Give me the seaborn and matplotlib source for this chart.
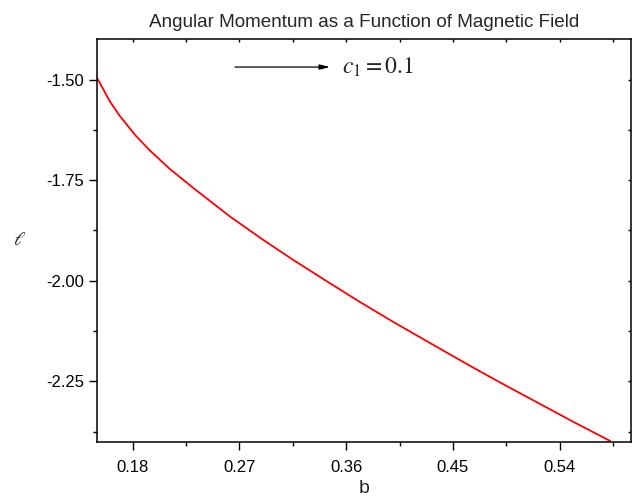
import matplotlib
matplotlib.use("Agg")
import matplotlib.pyplot as plt
import seaborn as sns
import pandas as pd
from matplotlib.ticker import MultipleLocator

# Magnetic field b and angular momentum l for c1 = 0.1
b_vals = [0.1500, 0.1609, 0.1694, 0.1820, 0.1947, 0.2115, 0.2326, 0.2621, 0.2889,
          0.3155, 0.3437, 0.3717, 0.3998, 0.4392, 0.4673, 0.4954, 0.5235, 0.5516,
          0.5826]
l_vals = [-1.4955, -1.5546, -1.5912, -1.6375, -1.6768, -1.7225, -1.7729, -1.8404,
          -1.8961, -1.9485, -2.0014, -2.0530, -2.1025, -2.1692, -2.2162, -2.2619,
          -2.3064, -2.3509, -2.3984]

x_ticks = [0.18, 0.27, 0.36, 0.45, 0.54]
y_ticks = [-1.50, -1.75, -2.00, -2.25]

sns.set_style("ticks")
plt.rcParams["font.family"] = ["Liberation Sans", "DejaVu Sans"]
plt.rcParams["mathtext.fontset"] = "stix"

df = pd.DataFrame({"b": b_vals, "l": l_vals})

fig = plt.figure(figsize=(6.36, 5.03), dpi=100)
ax = fig.add_axes([0.1525, 0.1219, 0.8395, 0.80])

sns.lineplot(data=df, x="b", y="l", ax=ax, color="#ff0000", linewidth=1.3)

ax.set_xlim(0.15, 0.60)
ax.set_ylim(-2.40, -1.40)
ax.set_xticks(x_ticks)
ax.set_yticks(y_ticks)
ax.set_xticklabels([f"{v:.2f}" for v in x_ticks])
ax.set_yticklabels([f"{v:.2f}" for v in y_ticks])
ax.xaxis.set_minor_locator(MultipleLocator(0.045))
ax.yaxis.set_minor_locator(MultipleLocator(0.125))

ax.tick_params(which="major", direction="out", length=5.5, width=1.0,
               labelsize=12, color="black", labelcolor="black")
ax.tick_params(axis="x", which="major", pad=8)
ax.tick_params(which="minor", direction="out", length=3, width=1.0, color="black")

for sp in ax.spines.values():
    sp.set_linewidth(1.1)
    sp.set_color("black")

# inward ticks on top and right edges
ax_top = ax.twiny()
ax_top.set_xlim(ax.get_xlim())
ax_top.set_xticks(x_ticks)
ax_top.xaxis.set_minor_locator(MultipleLocator(0.045))
ax_top.tick_params(which="both", direction="in", length=2.5, width=1.0,
                   labeltop=False, color="black")
ax_right = ax.twinx()
ax_right.set_ylim(ax.get_ylim())
ax_right.set_yticks(y_ticks)
ax_right.yaxis.set_minor_locator(MultipleLocator(0.125))
ax_right.tick_params(which="both", direction="in", length=2.5, width=1.0,
                     labelright=False, color="black")
for a in (ax_top, ax_right):
    for sp in a.spines.values():
        sp.set_visible(False)

ax.set_xlabel("b", fontsize=14, labelpad=3)
ax.set_ylabel(r"$\ell$", fontsize=14, rotation=0, labelpad=19, va="center")
ax.set_title("Angular Momentum as a Function of Magnetic Field", fontsize=13.6, pad=9)

ax.annotate("", xy=(0.3464, -1.469), xytext=(0.2663, -1.469),
            arrowprops=dict(arrowstyle="-|>,head_length=0.6,head_width=0.15",
                            color="black", lw=0.9, shrinkA=0, shrinkB=0))
ax.text(0.3565, -1.469, r"$c_1 = 0.1$", fontsize=17, va="center", ha="left")

fig.savefig("out.png", dpi=100)
